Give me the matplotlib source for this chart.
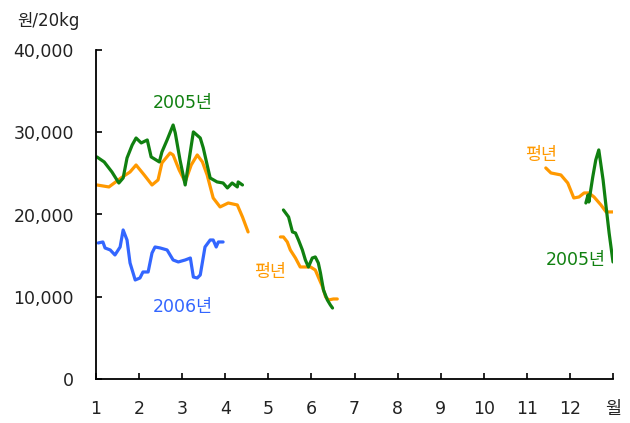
import matplotlib
matplotlib.use("Agg")
import matplotlib.pyplot as plt

plt.rcParams['font.family'] = ['DejaVu Sans', 'Noto Sans CJK KR']

# ---- data (x = month position, y = won / 20kg) ----
g1_x = [1.02, 1.19, 1.37, 1.53, 1.63, 1.72, 1.84, 1.93, 2.05, 2.19, 2.28, 2.47, 2.53, 2.65,
        2.79, 2.84, 2.95, 3.07, 3.16, 3.26, 3.42, 3.49, 3.58, 3.65, 3.81, 3.95, 4.05, 4.16,
        4.28, 4.30, 4.40]
g1_y = [27000, 26390, 25170, 23830, 24440, 26870, 28450, 29300, 28700, 29060, 27000, 26390,
        27600, 29060, 30880, 29910, 26630, 23590, 26630, 30040, 29300, 28090, 26020, 24440,
        23960, 23830, 23230, 23830, 23350, 23960, 23590]

o1_x = [1.02, 1.30, 1.58, 1.79, 1.93, 2.12, 2.30, 2.44, 2.53, 2.72, 2.79, 2.93, 3.07, 3.21,
        3.35, 3.47, 3.58, 3.72, 3.88, 4.07, 4.28, 4.40, 4.53]
o1_y = [23590, 23350, 24440, 25170, 26020, 24800, 23590, 24200, 26270, 27480, 27240, 25410,
        23960, 26020, 27240, 26390, 24800, 22010, 20920, 21400, 21160, 19700, 17880]

b1_x = [1.05, 1.16, 1.21, 1.33, 1.44, 1.56, 1.63, 1.72, 1.79, 1.91, 2.02, 2.09, 2.21, 2.30,
        2.37, 2.49, 2.65, 2.79, 2.91, 3.07, 3.19, 3.26, 3.35, 3.42, 3.53, 3.65, 3.72, 3.79,
        3.84, 3.95]
b1_y = [16540, 16660, 15930, 15690, 15080, 16050, 18120, 16900, 14110, 12040, 12280, 13010,
        13010, 15320, 16050, 15930, 15690, 14470, 14230, 14470, 14710, 12400, 12280, 12650,
        16050, 16900, 16900, 16050, 16660, 16660]

g2_x = [5.35, 5.47, 5.56, 5.63, 5.70, 5.79, 5.86, 5.93, 6.02, 6.09, 6.16, 6.21, 6.28, 6.37,
        6.44, 6.49]
g2_y = [20550, 19700, 17880, 17750, 16900, 15690, 14470, 13620, 14710, 14840, 14110, 12890,
        10820, 9610, 9000, 8630]

o2_x = [5.28, 5.35, 5.44, 5.51, 5.63, 5.74, 5.86, 5.98, 6.09, 6.16, 6.26, 6.33, 6.40, 6.51, 6.60]
o2_y = [17270, 17270, 16660, 15690, 14710, 13620, 13620, 13620, 13250, 12400, 11190, 9970,
        9610, 9730, 9730]

o3_x = [11.44, 11.56, 11.79, 11.95, 12.09, 12.21, 12.33, 12.44, 12.56, 12.72, 12.84, 13.0]
o3_y = [25660, 25050, 24810, 23830, 22010, 22130, 22620, 22620, 22130, 21160, 20310, 20310]

g3_x = [12.37, 12.42, 12.44, 12.53, 12.60, 12.67, 12.77, 12.84, 12.91, 13.0]
g3_y = [21400, 22370, 21520, 24560, 26630, 27850, 24200, 20920, 17750, 14230]

x_ticks = list(range(1, 14))
x_labels = [str(m) for m in range(1, 13)] + ['월']
y_ticks = [0, 10000, 20000, 30000, 40000]
y_labels = ['0', '10,000', '20,000', '30,000', '40,000']

GREEN = '#108010'
ORANGE = '#FF9900'
BLUE = '#3366FF'

fig = plt.figure(figsize=(6.3, 4.23), dpi=100)
ax = fig.add_axes([96 / 630, 44 / 423, (613 - 96) / 630, (379 - 50) / 423])

lw = 2.3
ax.plot(o1_x, o1_y, color=ORANGE, lw=lw, solid_capstyle='round')
ax.plot(g1_x, g1_y, color=GREEN, lw=lw, solid_capstyle='round')
ax.plot(b1_x, b1_y, color=BLUE, lw=lw, solid_capstyle='round')
ax.plot(o2_x, o2_y, color=ORANGE, lw=lw, solid_capstyle='round')
ax.plot(g2_x, g2_y, color=GREEN, lw=lw, solid_capstyle='round')
ax.plot(o3_x, o3_y, color=ORANGE, lw=lw, solid_capstyle='round')
ax.plot(g3_x, g3_y, color=GREEN, lw=lw, solid_capstyle='round')

ax.set_xlim(1, 13)
ax.set_ylim(0, 40000)
ax.set_xticks(x_ticks)
ax.set_xticklabels(x_labels)
ax.set_yticks(y_ticks)
ax.set_yticklabels(y_labels)

for s in ['top', 'right']:
    ax.spines[s].set_visible(False)
for s in ['left', 'bottom']:
    ax.spines[s].set_linewidth(1.3)
    ax.spines[s].set_color('black')

ax.tick_params(axis='x', direction='in', length=4, width=1.2, pad=15,
               labelsize=12.5, colors='black', labelcolor='#222222')
ax.tick_params(axis='y', direction='in', length=4, width=1.2, pad=16,
               labelsize=12.5, colors='black', labelcolor='#222222')

fs = 12.5
ax.text(3.02, 33560, '2005년', color=GREEN, fontsize=fs, ha='center', va='center')
ax.text(3.02, 8760, '2006년', color=BLUE, fontsize=fs, ha='center', va='center')
ax.text(5.05, 13010, '평년', color=ORANGE, fontsize=fs, ha='center', va='center')
ax.text(11.33, 27240, '평년', color=ORANGE, fontsize=fs, ha='center', va='center')
ax.text(12.14, 14470, '2005년', color=GREEN, fontsize=fs, ha='center', va='center')

fig.text(48 / 630, 1 - 21 / 423, '원/20kg', fontsize=12, color='#222222',
         ha='center', va='center')

fig.savefig('out.png', dpi=100)
